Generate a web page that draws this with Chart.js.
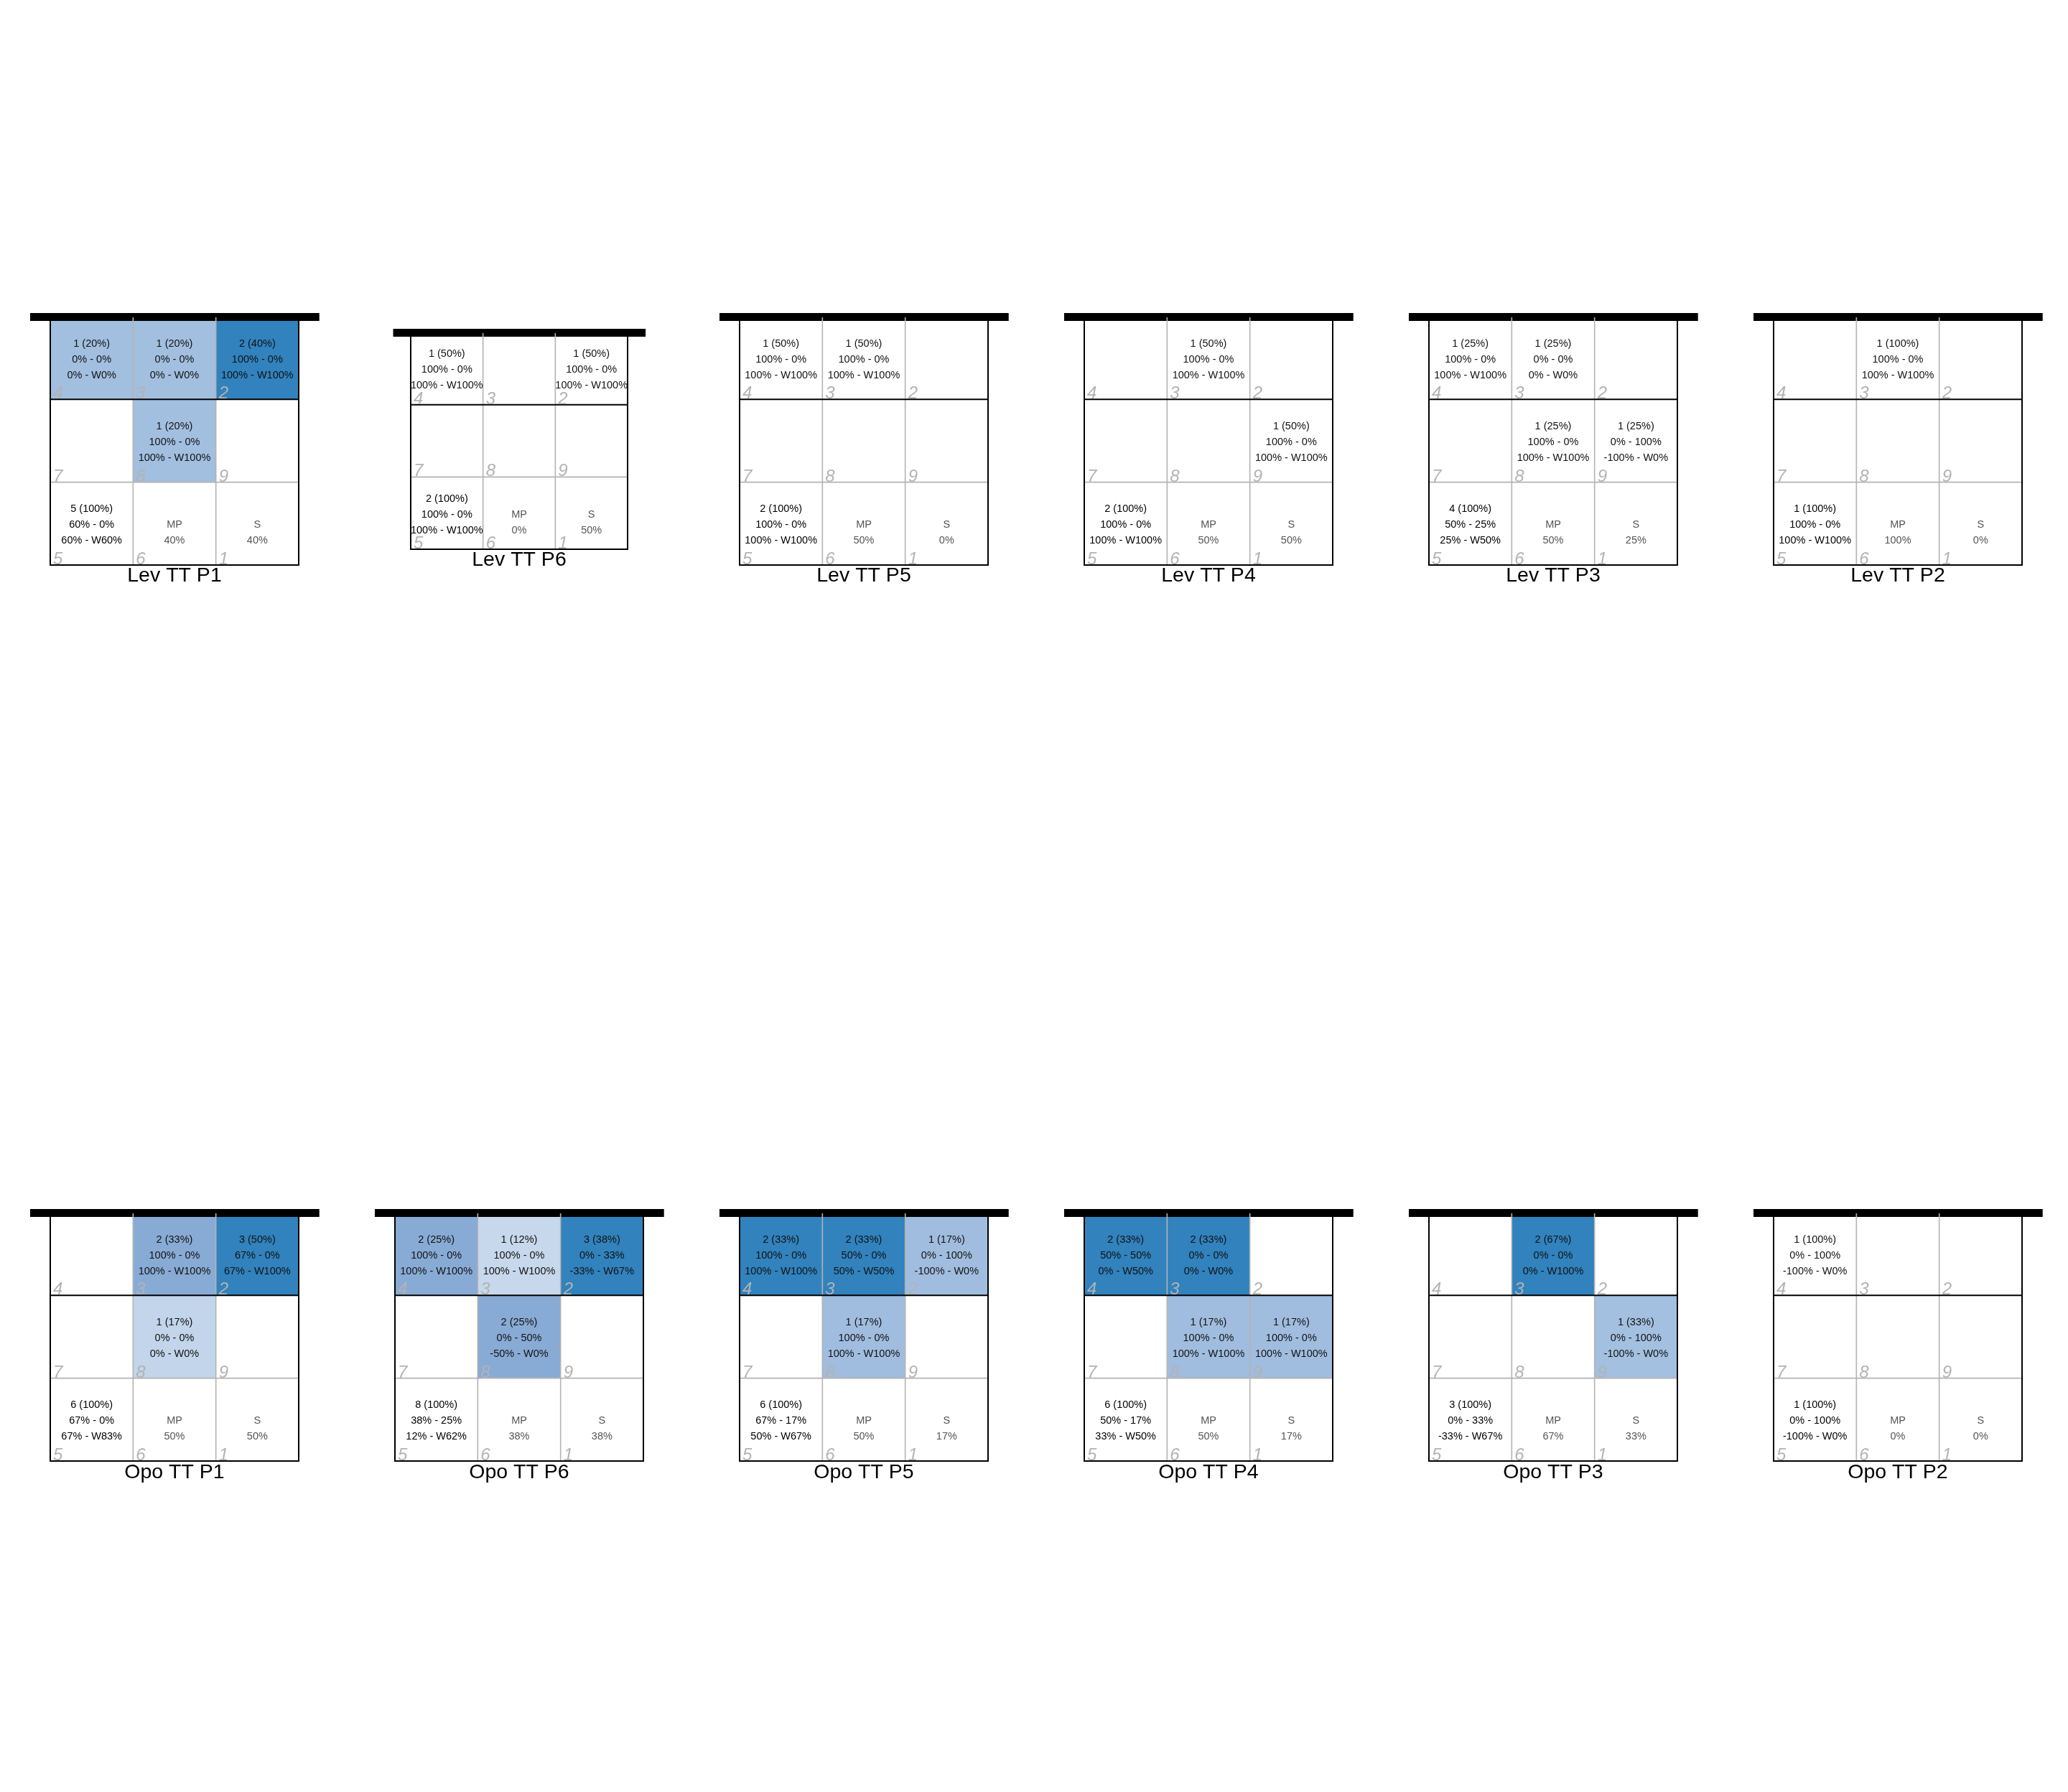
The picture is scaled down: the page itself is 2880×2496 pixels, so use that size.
<!DOCTYPE html>
<html>
<head>
<meta charset="utf-8">
<script src="https://cdn.jsdelivr.net/npm/chart.js@4.4.1/dist/chart.umd.min.js"></script>
<style>
  html, body { margin: 0; padding: 0; background: #ffffff; }
  #wrap { position: relative; width: 2880px; height: 2496px; background: #ffffff; overflow: hidden; }
  #wrap canvas { position: absolute; }
</style>
</head>
<body>
<div id="wrap"></div>
<script>
// ---------------- DATA ----------------
const panelTitles = ["Lev TT P1", "Lev TT P6", "Lev TT P5", "Lev TT P4", "Lev TT P3", "Lev TT P2",
                     "Opo TT P1", "Opo TT P6", "Opo TT P5", "Opo TT P4", "Opo TT P3", "Opo TT P2"];
// zone numbers in reading order: front row, middle row, back row
const zoneLabels = [4, 3, 2, 7, 8, 9, 5, 6, 1];
// attack zones in order 4,3,2,7,8,9 (null = no attack)
const attackCounts = [
  [1, 1, 2, null, 1, null],
  [1, null, 1, null, null, null],
  [1, 1, null, null, null, null],
  [null, 1, null, null, null, 1],
  [1, 1, null, null, 1, 1],
  [null, 1, null, null, null, null],
  [null, 2, 3, null, 1, null],
  [2, 1, 3, null, 2, null],
  [2, 2, 1, null, 1, null],
  [2, 2, null, null, 1, 1],
  [null, 2, null, null, null, 1],
  [1, null, null, null, null, null]
];
const attackShares = [
  [20, 20, 40, null, 20, null],
  [50, null, 50, null, null, null],
  [50, 50, null, null, null, null],
  [null, 50, null, null, null, 50],
  [25, 25, null, null, 25, 25],
  [null, 100, null, null, null, null],
  [null, 33, 50, null, 17, null],
  [25, 12, 38, null, 25, null],
  [33, 33, 17, null, 17, null],
  [33, 33, null, null, 17, 17],
  [null, 67, null, null, null, 33],
  [100, null, null, null, null, null]
];
const killRate = [
  [0, 0, 100, null, 100, null],
  [100, null, 100, null, null, null],
  [100, 100, null, null, null, null],
  [null, 100, null, null, null, 100],
  [100, 0, null, null, 100, 0],
  [null, 100, null, null, null, null],
  [null, 100, 67, null, 0, null],
  [100, 100, 0, null, 0, null],
  [100, 50, 0, null, 100, null],
  [50, 0, null, null, 100, 100],
  [null, 0, null, null, null, 0],
  [0, null, null, null, null, null]
];
const errorRate = [
  [0, 0, 0, null, 0, null],
  [0, null, 0, null, null, null],
  [0, 0, null, null, null, null],
  [null, 0, null, null, null, 0],
  [0, 0, null, null, 0, 100],
  [null, 0, null, null, null, null],
  [null, 0, 0, null, 0, null],
  [0, 0, 33, null, 50, null],
  [0, 0, 100, null, 0, null],
  [50, 0, null, null, 0, 0],
  [null, 0, null, null, null, 100],
  [100, null, null, null, null, null]
];
const efficiency = [
  [0, 0, 100, null, 100, null],
  [100, null, 100, null, null, null],
  [100, 100, null, null, null, null],
  [null, 100, null, null, null, 100],
  [100, 0, null, null, 100, -100],
  [null, 100, null, null, null, null],
  [null, 100, 67, null, 0, null],
  [100, 100, -33, null, -50, null],
  [100, 50, -100, null, 100, null],
  [0, 0, null, null, 100, 100],
  [null, 0, null, null, null, -100],
  [-100, null, null, null, null, null]
];
const winRate = [
  [0, 0, 100, null, 100, null],
  [100, null, 100, null, null, null],
  [100, 100, null, null, null, null],
  [null, 100, null, null, null, 100],
  [100, 0, null, null, 100, 0],
  [null, 100, null, null, null, null],
  [null, 100, 100, null, 0, null],
  [100, 100, 67, null, 0, null],
  [100, 50, 0, null, 100, null],
  [50, 0, null, null, 100, 100],
  [null, 100, null, null, null, 0],
  [0, null, null, null, null, null]
];
// totals shown in zone 5
const totalCounts = [5, 2, 2, 2, 4, 1, 6, 8, 6, 6, 3, 1];
const totalShares = [100, 100, 100, 100, 100, 100, 100, 100, 100, 100, 100, 100];
const totalKill   = [60, 100, 100, 100, 50, 100, 67, 38, 67, 50, 0, 0];
const totalError  = [0, 0, 0, 0, 25, 0, 0, 25, 17, 17, 33, 100];
const totalEff    = [60, 100, 100, 100, 25, 100, 67, 12, 50, 33, -33, -100];
const totalWin    = [60, 100, 100, 100, 50, 100, 83, 62, 67, 50, 67, 0];
const mpShares    = [40, 0, 50, 50, 50, 100, 50, 38, 50, 50, 67, 0];
const sShares     = [40, 50, 0, 50, 25, 0, 50, 38, 17, 17, 33, 0];
const courtColumns = ["left", "centre", "right"];

// ---------------- LAYOUT / STYLE ----------------
const FONT = '"Liberation Sans", Arial, Helvetica, sans-serif';
const PANEL_SCALE = [1, 0.873, 1, 1, 1, 1, 1, 1, 1, 1, 1, 1];
const BASE_COURT = 346;
const CANVAS_W = 480, CANVAS_H = 440;
const COL_STEP = 480, FIRST_CX = 243;
const ROW_STEP = 1248, FIRST_CY = 614;
const GRAY = '#B3B3B3';
const SHADE_STOPS = [
  [0, [255, 255, 255]],
  [0.33, [196, 214, 235]],
  [0.5, [162, 191, 224]],
  [0.67, [134, 170, 212]],
  [1, [49, 130, 189]]
];

function shade(ratio) {
  for (let i = 1; i < SHADE_STOPS.length; i++) {
    const [r1, c1] = SHADE_STOPS[i];
    const [r0, c0] = SHADE_STOPS[i - 1];
    if (ratio <= r1 + 1e-9) {
      const t = (ratio - r0) / (r1 - r0);
      const c = c0.map((v, k) => Math.round(v + (c1[k] - v) * t));
      return `rgb(${c[0]},${c[1]},${c[2]})`;
    }
  }
  return 'rgb(49,130,189)';
}

function cellColors(p) {
  const vals = attackShares[p].filter(v => v != null);
  const max = Math.max(...vals);
  const allEqual = vals.every(v => v === vals[0]);
  return attackShares[p].map(v => (v == null || allEqual) ? '#FFFFFF' : shade(v / max));
}

function cellLines(p, k) {
  if (k < 6) {
    if (attackCounts[p][k] == null) return [];
    return [
      `${attackCounts[p][k]} (${attackShares[p][k]}%)`,
      `${killRate[p][k]}% - ${errorRate[p][k]}%`,
      `${efficiency[p][k]}% - W${winRate[p][k]}%`
    ];
  }
  if (k === 6) return [
    `${totalCounts[p]} (${totalShares[p]}%)`,
    `${totalKill[p]}% - ${totalError[p]}%`,
    `${totalEff[p]}% - W${totalWin[p]}%`
  ];
  if (k === 7) return ['', 'MP', `${mpShares[p]}%`];
  return ['', 'S', `${sShares[p]}%`];
}

const courtPlugin = {
  id: 'court',
  afterDatasetsDraw(chart) {
    const p = chart.options.plugins.court.panel;
    const ctx = chart.ctx;
    const xs = chart.scales.x, ys = chart.scales.y;
    const colW = xs.getPixelForValue(1) - xs.getPixelForValue(0);
    const left = xs.getPixelForValue(0) - colW / 2;
    const right = xs.getPixelForValue(2) + colW / 2;
    const top = ys.getPixelForValue(3), bottom = ys.getPixelForValue(0);
    const s = right - left;
    ctx.save();
    // net
    ctx.fillStyle = '#000000';
    ctx.fillRect(left - 0.081 * s, top - 5, s * 1.164, 11);
    // gray inner lines
    ctx.strokeStyle = GRAY;
    ctx.lineWidth = 1.6;
    ctx.beginPath();
    for (let c = 1; c <= 2; c++) {
      const x = left + colW * c;
      ctx.moveTo(x, top + 1); ctx.lineTo(x, bottom);
    }
    const y1 = ys.getPixelForValue(1);
    ctx.moveTo(left, y1); ctx.lineTo(right, y1);
    ctx.stroke();
    // black lines: border + attack line
    ctx.strokeStyle = '#000000';
    ctx.lineWidth = 2;
    ctx.beginPath();
    ctx.moveTo(left, top + 4); ctx.lineTo(left, bottom); ctx.lineTo(right, bottom); ctx.lineTo(right, top + 4);
    const y2 = ys.getPixelForValue(2);
    ctx.moveTo(left, y2); ctx.lineTo(right, y2);
    ctx.stroke();
    // zone numbers and texts
    for (let k = 0; k < 9; k++) {
      const row = 2 - Math.floor(k / 3);
      const col = k % 3;
      const cTop = ys.getPixelForValue(row + 1), cBot = ys.getPixelForValue(row);
      const cx = xs.getPixelForValue(col);
      const cLeft = cx - colW / 2;
      ctx.font = `italic 24px ${FONT}`;
      ctx.fillStyle = GRAY;
      ctx.textAlign = 'left';
      ctx.textBaseline = 'alphabetic';
      ctx.fillText(String(zoneLabels[k]), cLeft + 4, cBot - 1);
      const lines = cellLines(p, k);
      const cy = (cTop + cBot) / 2 + 2;
      ctx.font = `14.5px ${FONT}`;
      ctx.textAlign = 'center';
      ctx.textBaseline = 'middle';
      ctx.fillStyle = k === 6 ? '#000000' : (k >= 7 ? '#555555' : '#111111');
      lines.forEach((t, i) => { if (t) ctx.fillText(t, cx, cy + (i - 1) * 22); });
    }
    // title
    ctx.font = `28.5px ${FONT}`;
    ctx.fillStyle = '#000000';
    ctx.textAlign = 'center';
    ctx.textBaseline = 'alphabetic';
    ctx.fillText(panelTitles[p], (left + right) / 2, bottom + (p < 6 ? 22.5 : 24));
    ctx.restore();
  }
};

const wrap = document.getElementById('wrap');
panelTitles.forEach((title, p) => {
  const col = p % 6, row = Math.floor(p / 6);
  const cx = FIRST_CX + COL_STEP * col;
  const cy = FIRST_CY + ROW_STEP * row + (row === 1 ? -0.5 : 0);
  const s = BASE_COURT * PANEL_SCALE[p];
  const canvas = document.createElement('canvas');
  canvas.width = CANVAS_W; canvas.height = CANVAS_H;
  canvas.style.width = CANVAS_W + 'px'; canvas.style.height = CANVAS_H + 'px';
  canvas.style.left = (cx - CANVAS_W / 2) + 'px';
  canvas.style.top = (cy - CANVAS_H / 2) + 'px';
  wrap.appendChild(canvas);
  const colors = cellColors(p);
  const padX = (CANVAS_W - s) / 2, padY = (CANVAS_H - s) / 2;
  new Chart(canvas, {
    type: 'bar',
    data: {
      labels: courtColumns,
      datasets: [
        { label: 'front', data: [[2, 3], [2, 3], [2, 3]], backgroundColor: colors.slice(0, 3) },
        { label: 'middle', data: [[1, 2], [1, 2], [1, 2]], backgroundColor: colors.slice(3, 6) },
        { label: 'back', data: [[0, 1], [0, 1], [0, 1]], backgroundColor: ['#FFFFFF', '#FFFFFF', '#FFFFFF'] }
      ]
    },
    options: {
      responsive: false,
      animation: false,
      devicePixelRatio: 1,
      layout: { padding: { left: padX, right: padX, top: padY, bottom: padY } },
      datasets: { bar: { grouped: false, barPercentage: 1, categoryPercentage: 1, borderWidth: 0, borderSkipped: false } },
      scales: {
        x: { type: 'category', display: false, offset: true },
        y: { type: 'linear', min: 0, max: 3, display: false }
      },
      plugins: {
        legend: { display: false },
        tooltip: { enabled: false },
        title: { display: false },
        court: { panel: p }
      }
    },
    plugins: [courtPlugin]
  });
});
</script>
</body>
</html>
